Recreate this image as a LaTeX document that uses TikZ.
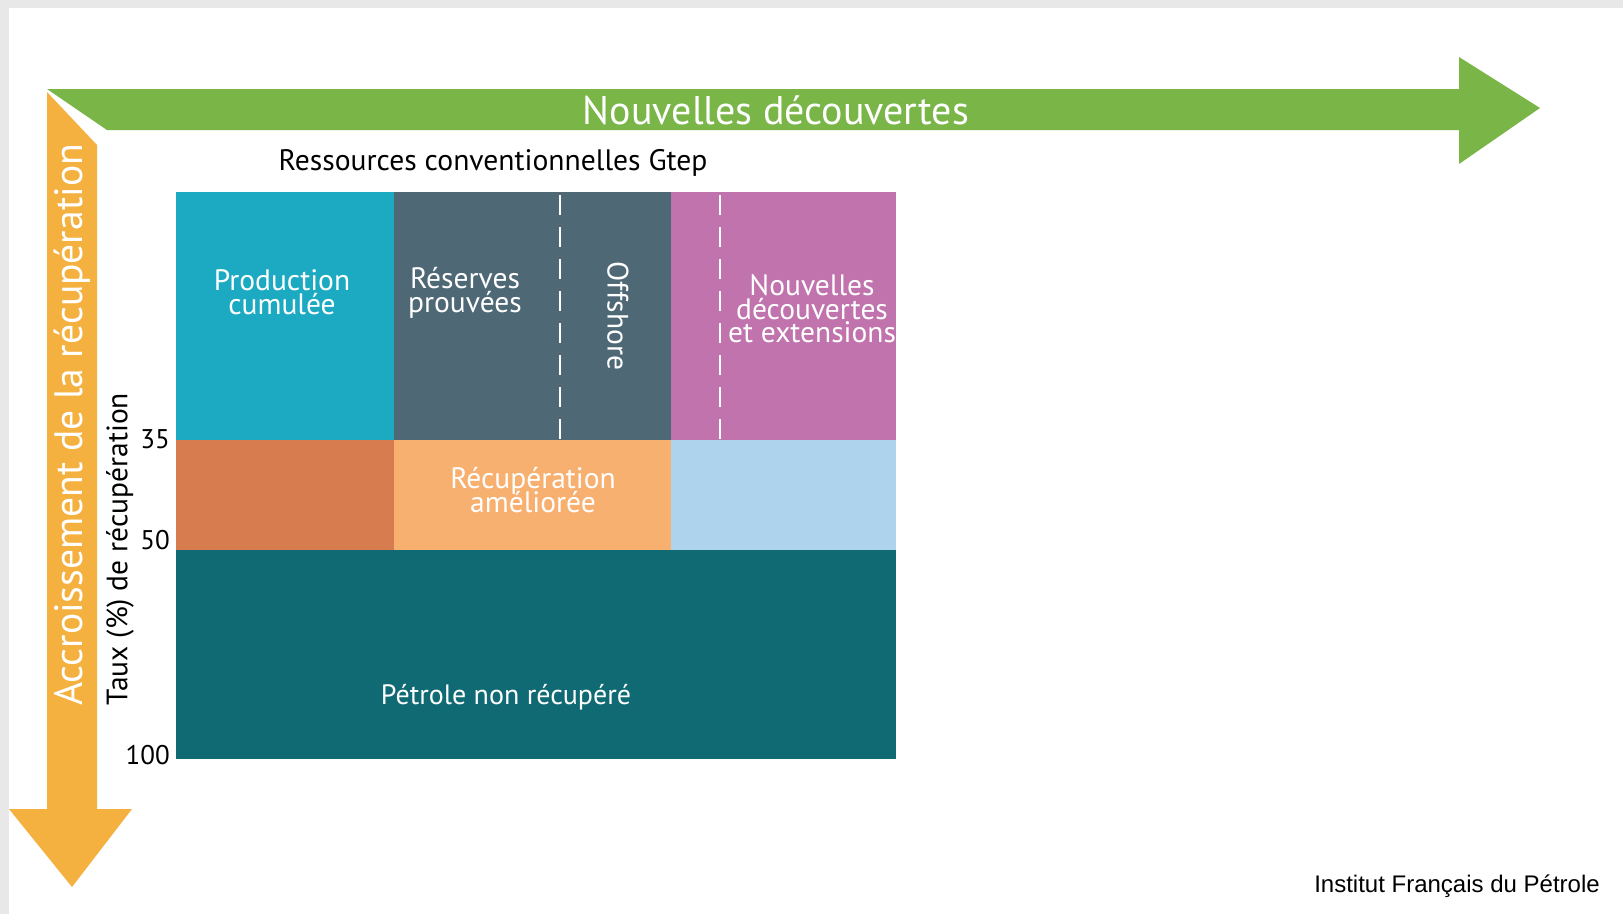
\documentclass[tikz,border=0pt]{standalone}
\usepackage{fontspec}
\setmainfont{PT Sans}
\newfontfamily\arialfont{Liberation Sans}
\usetikzlibrary{positioning}
\setlength{\lineskiplimit}{-20pt}

\definecolor{vertfl}{RGB}{122,181,72}
\definecolor{orangefl}{RGB}{245,177,64}
\definecolor{prodcol}{RGB}{27,170,194}
\definecolor{rescol}{RGB}{79,104,117}
\definecolor{nouvcol}{RGB}{192,115,172}
\definecolor{briquecol}{RGB}{214,124,79}
\definecolor{ameliocol}{RGB}{248,176,112}
\definecolor{bleuclcol}{RGB}{174,212,237}
\definecolor{petrolecol}{RGB}{16,106,116}
\definecolor{cadre}{RGB}{232,232,232}

\begin{document}
\begin{tikzpicture}[x=1pt,y=-1pt,
  bloc/.style={rectangle,inner sep=0pt,anchor=north west},
  etiq/.style={text=white,align=center,inner sep=0pt,font=\fontsize{29.5}{23.5}\selectfont},
  graduation/.style={anchor=east,inner sep=0pt,font=\fontsize{27}{27}\selectfont}]
  % fond
  \fill[cadre] (0,0) rectangle (1623,914);
  \fill[white] (9,8) rectangle (1623,914);
  \useasboundingbox (0,0) rectangle (1623,914);
  % fleches
  \fill[vertfl] (47,89) -- (1459,89) -- (1459,57) -- (1540,108) -- (1459,164)
    -- (1459,130) -- (107,130) -- cycle;
  \fill[orangefl] (47,92) -- (97,145) -- (97,809) -- (132,809) -- (72,887)
    -- (9,809) -- (47,809) -- cycle;
  \node[text=white,font=\fontsize{40}{40}\selectfont] (decouv) at (776,110) {Nouvelles découvertes};
  \node[text=white,rotate=90,font=\fontsize{39.6}{40}\selectfont] (accr) at (72,425) {Accroissement de la récupération};
  % blocs
  \node[bloc,fill=prodcol,minimum width=218pt,minimum height=248pt] (prod) at (176,192) {};
  \node[bloc,fill=rescol,minimum width=277pt,minimum height=248pt] (res) at (394,192) {};
  \node[bloc,fill=nouvcol,minimum width=225pt,minimum height=248pt] (nouv) at (671,192) {};
  \node[bloc,fill=briquecol,minimum width=218pt,minimum height=110pt] (brique) at (176,440) {};
  \node[bloc,fill=ameliocol,minimum width=277pt,minimum height=110pt] (amelio) at (394,440) {};
  \node[bloc,fill=bleuclcol,minimum width=225pt,minimum height=110pt] (bleucl) at (671,440) {};
  \node[bloc,fill=petrolecol,minimum width=720pt,minimum height=209pt] (petrole) at (176,550) {};
  \draw[white,line width=2pt,dash pattern=on 20pt off 12pt] (560,195) -- (560,440);
  \draw[white,line width=2pt,dash pattern=on 20pt off 12pt] (720,195) -- (720,440);
  % textes
  \node[font=\fontsize{29.6}{29.6}\selectfont] (titre) at (493,163) {Ressources conventionnelles Gtep};
  \node[etiq] (tprod) at (282,292) {Production\\cumulée};
  \node[etiq] (tres) at (465,293) {Réserves\\prouvées};
  \node[etiq,rotate=-90] (toff) at (618,316) {Offshore};
  \node[etiq] (tnouv) at (812,309) {Nouvelles\\découvertes\\et extensions};
  \node[etiq] (tamelio) at (533,490) {Récupération\\améliorée};
  \node[etiq,font=\fontsize{28}{28}\selectfont] (tpetrole) at (506,697) {Pétrole non récupéré};
  \node[rotate=90,font=\fontsize{29.5}{29.5}\selectfont] (taux) at (120,549) {Taux (\%) de récupération};
  \node[graduation] (g35) at (170,439) {35};
  \node[graduation] (g50) at (170,540) {50};
  \node[graduation] (g100) at (170,755) {100};
  \node[font=\arialfont\fontsize{24}{24}\selectfont] (source) at (1457,886) {Institut Français du Pétrole};
\end{tikzpicture}
\end{document}
